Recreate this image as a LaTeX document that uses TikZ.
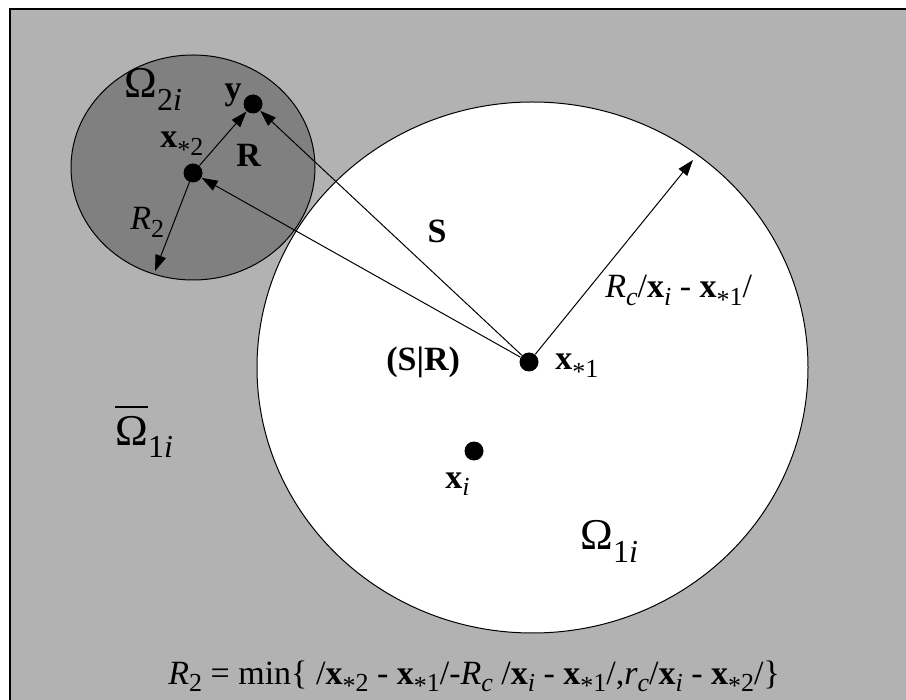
\documentclass[tikz,border=0pt]{standalone}
\usepackage{fontspec}
\setmainfont{Liberation Serif}
\usetikzlibrary{arrows.meta}

\definecolor{bgGray}{gray}{0.70}
\definecolor{darkGray}{gray}{0.50}
\newcommand{\vb}{\textbf{x}}
\newcommand{\subs}[1]{\raisebox{-0.45ex}{\fontsize{13}{15}\selectfont #1}}
\newcommand{\osubs}[1]{\raisebox{-0.6ex}{\fontsize{16}{18}\selectfont #1}}
\newcommand{\st}{\raisebox{-0.3ex}{*}}
\newcommand{\barOm}{\makebox[0pt][l]{\raisebox{0.84em}{\rule{0.74em}{0.05em}}}Ω}

\begin{document}
\begin{tikzpicture}[x=0.5pt, y=-0.5pt,
                    dot/.style={circle, fill=black, inner sep=0pt, minimum size=9.5pt},
                    lab/.style={inner sep=0pt, anchor=base west, font=\fontsize{17}{20}\selectfont},
                    omg/.style={lab, font=\fontsize{22}{24}\selectfont},
                    vec/.style={-{Triangle[length=8pt, width=5.5pt]}, line width=0.5pt}]

    \useasboundingbox (0,0) rectangle (906,700);
    \clip (0,0) rectangle (906,700);

    \filldraw[fill=bgGray, line width=1pt] (10,9) rectangle (920,720);
    \fill[white] (532.5,367.5) ellipse [x radius=275.5, y radius=265.5];
    \filldraw[fill=darkGray, line width=0.5pt] (193,167.5) ellipse [x radius=122, y radius=112.5];
    \draw[line width=0.5pt] (532.5,367.5) ellipse [x radius=275.5, y radius=265.5];

    \node[dot] (x2) at (193,173) {};
    \node[dot] (y)  at (253,104) {};
    \node[dot] (x1) at (529,362) {};
    \node[dot] (xi) at (474,451) {};
    \coordinate (r2) at (155,271);
    \coordinate (rc) at (693,160);

    \draw[vec] (x2) -- (r2);
    \draw[vec] (x2) -- (y);
    \draw[vec] (x1) -- (y);
    \draw[vec] (x1) -- (x2);
    \draw[vec] (x1) -- (rc);

    \node[omg] (o2)  at (124,98)  {Ω\osubs{2\textit{i}}};
    \node[lab, anchor=base] (ly) at (233,100) {\textbf{y}};
    \node[lab] (lx2) at (160,148) {\vb\subs{\st2}};
    \node[lab] (lR)  at (236,167) {\textbf{R}};
    \node[lab] (lR2) at (130,230) {\textit{R}\subs{2}};
    \node[lab, anchor=base] (lS) at (437,243) {\textbf{S}};
    \node[lab] (lSR) at (386,371) {\textbf{(S|R)}};
    \node[lab] (lx1) at (555,370) {\vb\subs{\st1}};
    \node[lab] (lRc) at (605,298) {\textit{R\subs{c}}/\vb\subs{\textit{i}} - \vb\subs{\st1}/};
    \node[omg] (ob)  at (115,445) {\barOm\osubs{1\textit{i}}};
    \node[lab] (lxi) at (445,488) {\vb\subs{\textit{i}}};
    \node[omg] (o1)  at (580,550) {Ω\osubs{1\textit{i}}};
    \node[lab] (eq)  at (168,684) {\textit{R}\subs{2} = min\{ /\vb\subs{\st2} - \vb\subs{\st1}/-\textit{R\subs{c}} /\vb\subs{\textit{i}} - \vb\subs{\st1}/,\textit{r\subs{c}}/\vb\subs{\textit{i}} - \vb\subs{\st2}/\}};
\end{tikzpicture}
\end{document}
